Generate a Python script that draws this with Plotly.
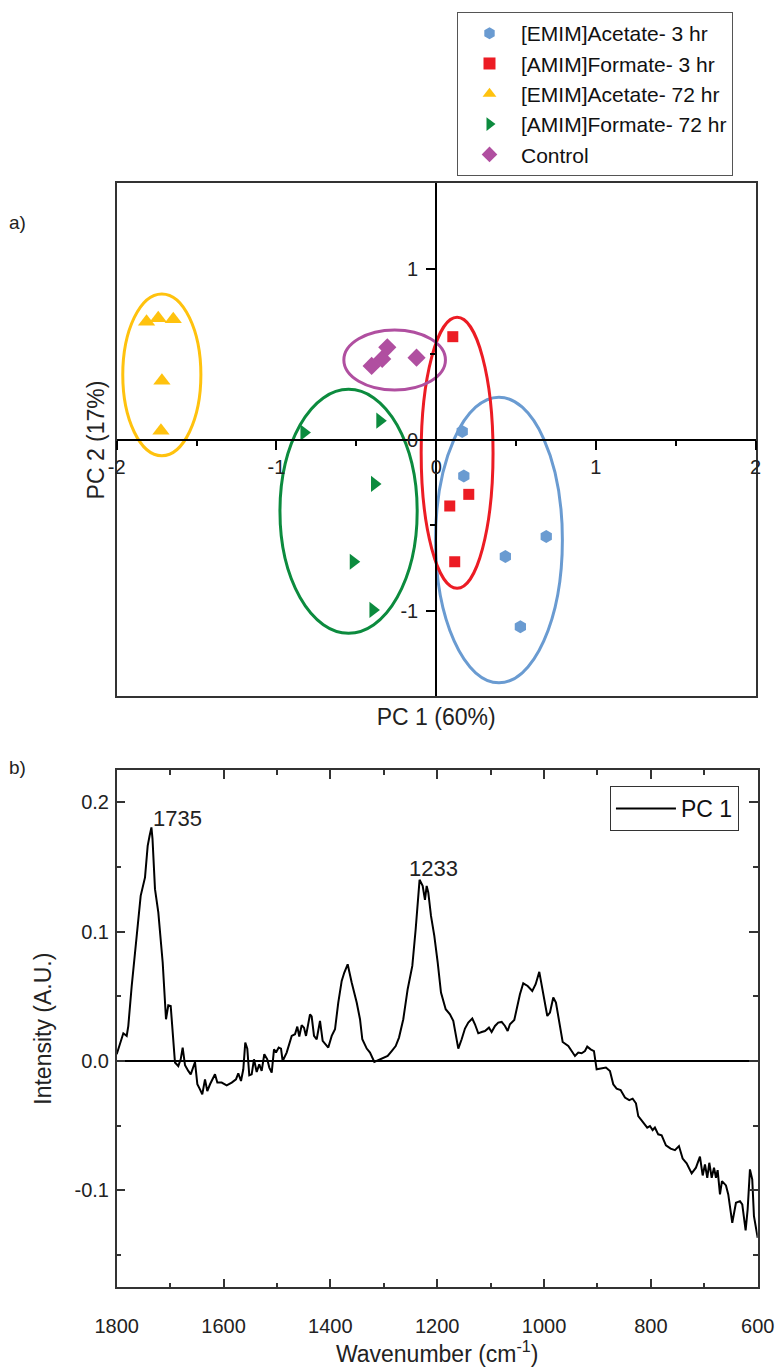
import plotly.graph_objects as go

# ---------------- PCA scores (panel a) ----------------
emim_3_pc1 = [0.163, 0.173, 0.433, 0.689, 0.527]
emim_3_pc2 = [0.049, -0.211, -0.682, -0.565, -1.092]
amim_3_pc1 = [0.104, 0.204, 0.085, 0.116]
amim_3_pc2 = [0.604, -0.318, -0.386, -0.712]
emim_72_pc1 = [-1.813, -1.740, -1.646, -1.717, -1.723]
emim_72_pc2 = [0.692, 0.712, 0.706, 0.347, 0.054]
amim_72_pc1 = [-0.828, -0.353, -0.386, -0.519, -0.396]
amim_72_pc2 = [0.043, 0.113, -0.257, -0.712, -0.994]
control_pc1 = [-0.404, -0.338, -0.306, -0.123]
control_pc2 = [0.433, 0.474, 0.542, 0.481]

group_names = ["[EMIM]Acetate- 3 hr", "[AMIM]Formate- 3 hr", "[EMIM]Acetate- 72 hr",
               "[AMIM]Formate- 72 hr", "Control"]
group_colors = ["#6A9BD1", "#EC1C24", "#FFC20E", "#0C8B3E", "#B04FA0"]
group_symbols = ["hexagon", "square", "triangle-up", "triangle-right", "diamond"]
group_sizes = [13, 11, 15, 14, 14]

# confidence ellipses: (pc1 min, pc1 max, pc2 min, pc2 max)
ellipse_emim_3 = (-0.004, 0.790, -1.420, 0.250)
ellipse_amim_3 = (-0.094, 0.356, -0.867, 0.717)
ellipse_emim_72 = (-1.962, -1.473, -0.092, 0.854)
ellipse_amim_72 = (-0.978, -0.119, -1.130, 0.296)
ellipse_control = (-0.578, 0.058, 0.292, 0.643)

pc_ticks = [-2, -1, 0, 1, 2]
pc_ticktext = ["-2", "-1", "0", "1", "2"]
pc2_ticks = [-1, 0, 1]
pc2_ticktext = ["-1", "0", "1"]

# ---------------- PC 1 loading spectrum (panel b) ----------------
wavenumber = [
    1800.0, 1793.8, 1787.6, 1781.3, 1778.3, 1771.9, 1762.6, 1755.1, 1747.0, 1742.0,
    1738.5, 1735.0, 1733.0, 1728.3, 1722.1, 1713.9, 1707.7, 1703.4, 1698.9, 1690.9,
    1684.7, 1680.2, 1676.5, 1672.1, 1666.0, 1661.4, 1653.4, 1649.0, 1644.1, 1639.8,
    1634.7, 1630.4, 1625.3, 1616.0, 1611.6, 1603.5, 1594.1, 1584.7, 1576.7, 1572.4,
    1567.3, 1563.0, 1559.3, 1555.5, 1551.8, 1547.3, 1543.0, 1537.9, 1533.1, 1528.6,
    1523.7, 1518.1, 1514.3, 1509.8, 1505.5, 1501.8, 1496.7, 1492.4, 1489.3, 1481.8,
    1472.4, 1466.2, 1461.9, 1458.2, 1453.7, 1449.4, 1445.6, 1438.1, 1435.0, 1430.6,
    1425.6, 1419.4, 1414.4, 1406.9, 1403.9, 1397.5, 1391.3, 1385.2, 1378.8, 1373.9,
    1367.6, 1360.1, 1350.7, 1344.5, 1340.2, 1331.9, 1325.8, 1317.7, 1310.2, 1300.9,
    1292.7, 1285.2, 1277.7, 1271.5, 1263.5, 1255.3, 1246.6, 1240.3, 1235.4, 1233.0,
    1227.2, 1222.9, 1219.7, 1216.7, 1211.6, 1205.4, 1199.1, 1192.9, 1184.1, 1176.1,
    1169.9, 1160.5, 1154.2, 1148.0, 1141.8, 1134.3, 1129.3, 1123.1, 1116.7, 1110.6,
    1103.1, 1098.1, 1091.8, 1085.7, 1079.3, 1073.1, 1068.1, 1063.8, 1055.7, 1049.4,
    1045.1, 1038.9, 1030.6, 1022.0, 1015.7, 1008.9, 1001.4, 993.9, 988.9, 982.7,
    977.7, 970.2, 965.1, 954.6, 948.3, 942.1, 935.9, 929.6, 923.4, 919.1,
    912.7, 906.5, 901.5, 894.0, 884.1, 876.6, 870.4, 864.1, 856.6, 848.5,
    840.5, 834.1, 827.9, 823.6, 815.4, 806.8, 801.7, 796.7, 792.4, 786.2,
    779.8, 771.8, 763.0, 754.9, 747.4, 740.5, 733.0, 723.6, 715.6, 708.1,
    703.0, 698.7, 694.4, 690.6, 686.1, 681.8, 678.1, 675.0, 670.6, 666.9,
    659.4, 655.1, 647.6, 640.7, 633.2, 628.9, 622.6, 618.8, 614.5, 610.2,
    607.0, 603.8, 600.0,
]
pc1_loading = [
    0.0052, 0.0142, 0.0214, 0.0194, 0.0270, 0.0580, 0.0967, 0.1277, 0.1420, 0.1664,
    0.1740, 0.1806, 0.1720, 0.1329, 0.1149, 0.0762, 0.0323, 0.0431, 0.0426, -0.0012,
    -0.0039, 0.0013, 0.0104, -0.0033, -0.0077, -0.0103, -0.0008, -0.0180, -0.0219, -0.0258,
    -0.0142, -0.0232, -0.0180, -0.0103, -0.0167, -0.0167, -0.0188, -0.0167, -0.0142, -0.0095,
    -0.0155, -0.0064, 0.0142, 0.0096, -0.0110, -0.0103, 0.0013, -0.0085, -0.0026, -0.0077,
    0.0052, 0.0013, -0.0051, -0.0090, 0.0090, 0.0065, 0.0104, 0.0096, 0.0000, 0.0065,
    0.0194, 0.0207, 0.0266, 0.0189, 0.0276, 0.0258, 0.0194, 0.0361, 0.0344, 0.0194,
    0.0168, 0.0310, 0.0155, 0.0116, 0.0104, 0.0194, 0.0245, 0.0452, 0.0619, 0.0684,
    0.0748, 0.0607, 0.0452, 0.0323, 0.0168, 0.0096, 0.0065, -0.0008, 0.0008, 0.0026,
    0.0039, 0.0077, 0.0116, 0.0181, 0.0323, 0.0555, 0.0735, 0.1019, 0.1252, 0.1401,
    0.1354, 0.1246, 0.1354, 0.1303, 0.1122, 0.0967, 0.0762, 0.0529, 0.0400, 0.0361,
    0.0310, 0.0096, 0.0168, 0.0251, 0.0297, 0.0328, 0.0284, 0.0214, 0.0224, 0.0232,
    0.0258, 0.0224, 0.0271, 0.0297, 0.0302, 0.0271, 0.0232, 0.0284, 0.0317, 0.0452,
    0.0516, 0.0601, 0.0580, 0.0542, 0.0594, 0.0689, 0.0529, 0.0348, 0.0375, 0.0491,
    0.0452, 0.0271, 0.0147, 0.0116, 0.0077, 0.0039, 0.0065, 0.0060, 0.0077, 0.0111,
    0.0090, 0.0077, -0.0064, -0.0059, -0.0051, -0.0077, -0.0180, -0.0214, -0.0224, -0.0283,
    -0.0302, -0.0291, -0.0327, -0.0426, -0.0472, -0.0515, -0.0503, -0.0534, -0.0515, -0.0567,
    -0.0575, -0.0652, -0.0678, -0.0689, -0.0658, -0.0755, -0.0792, -0.0869, -0.0825, -0.0740,
    -0.0885, -0.0800, -0.0903, -0.0787, -0.0903, -0.0825, -0.0903, -0.0844, -0.1032, -0.0929,
    -0.0962, -0.1032, -0.1251, -0.1096, -0.1084, -0.1109, -0.1310, -0.1148, -0.0838, -0.0916,
    -0.1200, -0.1277, -0.1367,
]
peak_labels = [(1735.0, 0.1806, "1735"), (1233.0, 0.1401, "1233")]

wn_ticks = [1800, 1600, 1400, 1200, 1000, 800, 600]
wn_minor = [1700, 1500, 1300, 1100, 900, 700]
int_ticks = [-0.1, 0.0, 0.1, 0.2]
int_ticktext = ["-0.1", "0.0", "0.1", "0.2"]
int_minor = [-0.15, -0.05, 0.05, 0.15]

FONT = "Liberation Sans, Arial, sans-serif"

fig = go.Figure()

score_sets = [
    (emim_3_pc1, emim_3_pc2),
    (amim_3_pc1, amim_3_pc2),
    (emim_72_pc1, emim_72_pc2),
    (amim_72_pc1, amim_72_pc2),
    (control_pc1, control_pc2),
]
for (px, py), name, col, sym, sz in zip(score_sets, group_names, group_colors,
                                         group_symbols, group_sizes):
    fig.add_trace(go.Scatter(
        x=px, y=py, mode="markers", name=name,
        marker=dict(symbol=sym, color=col, size=sz, line=dict(width=0)),
        xaxis="x", yaxis="y", legend="legend",
    ))

# carrier trace for the crossing axes through the origin
fig.add_trace(go.Scatter(x=[0], y=[0], mode="markers", marker=dict(opacity=0),
                         xaxis="x3", yaxis="y3", showlegend=False, hoverinfo="skip"))

fig.add_trace(go.Scatter(
    x=wavenumber, y=pc1_loading, mode="lines", name="PC 1",
    line=dict(color="black", width=2), xaxis="x2", yaxis="y2", legend="legend2",
))

ellipses = [ellipse_emim_3, ellipse_amim_3, ellipse_emim_72, ellipse_amim_72, ellipse_control]
shapes = []
for (x0, x1, y0, y1), col in zip(ellipses, group_colors):
    shapes.append(dict(type="circle", xref="x", yref="y", x0=x0, x1=x1, y0=y0, y1=y1,
                       line=dict(color=col, width=3), layer="below"))

annotations = [
    dict(text="a)", x=0.022, y=0.8376, xref="paper", yref="paper", showarrow=False,
         font=dict(size=19, color="#222", family=FONT), xanchor="center", yanchor="middle"),
    dict(text="b)", x=0.022, y=0.4382, xref="paper", yref="paper", showarrow=False,
         font=dict(size=19, color="#222", family=FONT), xanchor="center", yanchor="middle"),
]
# peak labels: 1735 starts at its peak, 1233 sits just right of centre
label_anchor = {"1735": ("left", 0, -6), "1233": ("center", 14, -3)}
for wx, wy, txt in peak_labels:
    anchor, xs, ys = label_anchor[txt]
    annotations.append(dict(text=txt, x=wx, y=wy, xref="x2", yref="y2", showarrow=False,
                            xanchor=anchor, yanchor="bottom", xshift=xs, yshift=ys,
                            font=dict(size=22, color="#222", family=FONT)))

frame = dict(showline=True, mirror=True, linecolor="#333", linewidth=1.5, ticks="",
             showticklabels=False, showgrid=False, zeroline=False, automargin=False)
title_font = dict(size=23, color="#222", family=FONT)
tick_font = dict(size=20, color="#222", family=FONT)

fig.update_layout(
    width=778, height=1367,
    margin=dict(l=0, r=0, t=0, b=0, autoexpand=False),
    paper_bgcolor="white", plot_bgcolor="white",
    font=dict(family=FONT, color="#222"),
    shapes=shapes, annotations=annotations,
    xaxis=dict(frame, domain=[0.15, 0.9713], range=[-2, 2], anchor="y",
               title=dict(text="PC 1 (60%)", font=title_font, standoff=12)),
    yaxis=dict(frame, domain=[0.4905, 0.8658], range=[-1.5, 1.5], anchor="x",
               title=dict(text="PC 2 (17%)", font=title_font, standoff=4)),
    xaxis3=dict(overlaying="x", range=[-2, 2], anchor="free", position=0.6781,
                showline=True, linecolor="black", linewidth=2, ticks="outside",
                ticklen=9, tickwidth=1.5, tickcolor="black", automargin=False,
                tickvals=pc_ticks, ticktext=pc_ticktext, tickfont=tick_font,
                minor=dict(tickvals=[-1.5, -0.5, 0.5, 1.5], ticks="outside", ticklen=5,
                           tickwidth=1.5, tickcolor="black"),
                showgrid=False, zeroline=False),
    yaxis3=dict(overlaying="y", range=[-1.5, 1.5], anchor="free", position=0.5607,
                showline=True, linecolor="black", linewidth=2, ticks="outside",
                ticklen=9, tickwidth=1.5, tickcolor="black", automargin=False,
                tickvals=pc2_ticks, ticktext=pc2_ticktext, tickfont=tick_font,
                ticklabelstandoff=4,
                minor=dict(tickvals=[-0.5, 0.5], ticks="outside", ticklen=5,
                           tickwidth=1.5, tickcolor="black"),
                showgrid=False, zeroline=False),
    xaxis2=dict(domain=[0.15, 0.9739], range=[1800, 600], anchor="y2",
                showline=True, mirror="ticks", linecolor="#333", linewidth=1.5,
                ticks="inside", ticklen=9, tickwidth=1.5, tickcolor="#333",
                tickvals=wn_ticks, tickfont=tick_font, ticklabelstandoff=20,
                minor=dict(tickvals=wn_minor, ticks="inside", ticklen=5, tickwidth=1.5,
                           tickcolor="#333"),
                showgrid=False, zeroline=False, automargin=False,
                title=dict(text="Wavenumber (cm<sup>-1</sup>)", font=title_font, standoff=2)),
    yaxis2=dict(domain=[0.0583, 0.4367], range=[-0.175, 0.225], anchor="x2",
                showline=True, mirror="ticks", linecolor="#333", linewidth=1.5,
                ticks="inside", ticklen=9, tickwidth=1.5, tickcolor="#333",
                tickvals=int_ticks, ticktext=int_ticktext, tickfont=tick_font,
                ticklabelstandoff=2,
                minor=dict(tickvals=int_minor, ticks="inside", ticklen=5, tickwidth=1.5,
                           tickcolor="#333"),
                showgrid=False, zeroline=True, zerolinecolor="black", zerolinewidth=1.5,
                automargin=False,
                title=dict(text="Intensity (A.U.)", font=title_font, standoff=16)),
    legend=dict(x=0.5874, y=0.9912, xanchor="left", yanchor="top",
                bordercolor="#555", borderwidth=1, bgcolor="white",
                font=dict(size=21, color="#111", family=FONT), itemsizing="constant",
                itemwidth=53, tracegroupgap=0),
    legend2=dict(x=0.784, y=0.425, xanchor="left", yanchor="top",
                 bordercolor="#333", borderwidth=1, bgcolor="white", itemwidth=60,
                 font=dict(size=23, color="#111", family=FONT)),
)

fig.write_html("out.html")
